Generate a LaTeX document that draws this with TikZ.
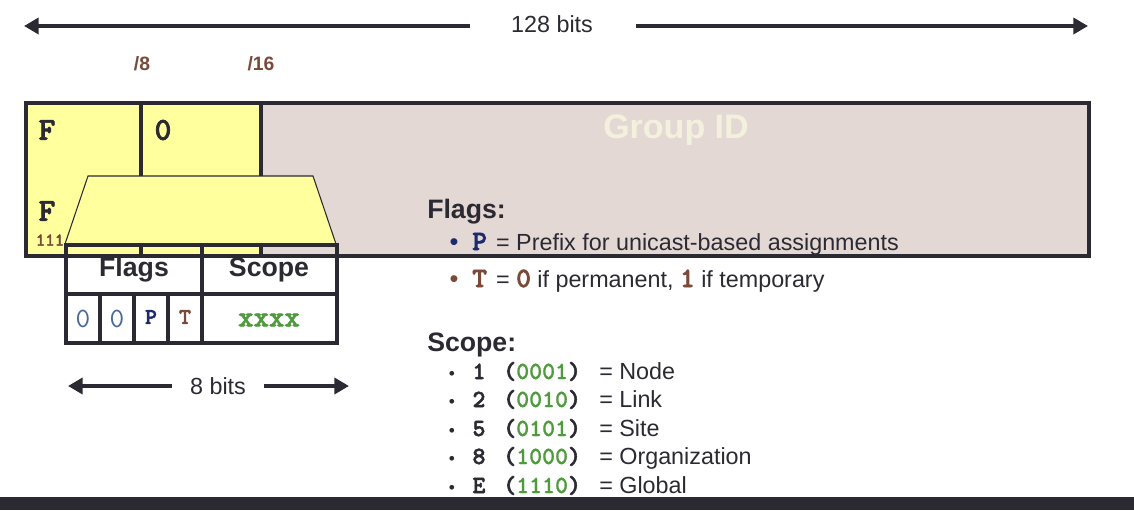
\documentclass[tikz,border=0pt]{standalone}
\usepackage{fontspec}
\setmainfont{Liberation Sans}
\newfontfamily\monob{lmmonolt10-bold.otf}[FakeBold=2.2]
\newfontfamily\monom{lmmonolt10-bold.otf}[FakeBold=0.8]
\newfontfamily\monor{lmmono10-regular.otf}
\usetikzlibrary{arrows.meta}
\definecolor{dk}{HTML}{2B2A33}
\definecolor{yel}{HTML}{FFFF9E}
\definecolor{pinkbg}{HTML}{E4D8D5}
\definecolor{cream}{HTML}{F3F1DE}
\definecolor{brn}{HTML}{7A4A38}
\definecolor{navy}{HTML}{1C2A6E}
\definecolor{grn}{HTML}{4E9A3C}
\definecolor{zblue}{HTML}{4A6A9A}
\newcommand\fsz[1]{\fontsize{#1}{#1}\selectfont}
\begin{document}
\begin{tikzpicture}[x=0.75pt,y=-0.75pt,
  thickline/.style={line width=3pt, draw=dk},
  bigarrow/.style={line width=3pt, draw=dk, -{Triangle[length=11pt,width=12pt]}},
  lbl/.style={inner sep=0pt, text=dk},
  body/.style={font=\fsz{17.5}},
  hdr/.style={font=\fsz{20}\bfseries},
  boxmono/.style={font=\fsz{24}\monob},
]
\useasboundingbox (0,0) rectangle (1134,510);
% top arrow
\node[lbl, body] (bits128) at (552,24) {128 bits};
\coordinate (l128s) at (470,26);
\coordinate (l128e) at (24,26);
\coordinate (r128s) at (636,26);
\coordinate (r128e) at (1088,26);
\draw[bigarrow] (l128s) -- (l128e);
\draw[bigarrow] (r128s) -- (r128e);
% prefix marks
\node[lbl, text=brn, font=\fsz{14.5}\bfseries] (p8) at (142,64) {/8};
\node[lbl, text=brn, font=\fsz{14.5}\bfseries] (p16) at (261,64) {/16};
% main box
\fill[yel] (26,103) rectangle (261,256);
\fill[pinkbg] (261,103) rectangle (1089,256);
\draw[thickline] (26,103) rectangle (1089,256);
\draw[thickline] (141,103) -- (141,256);
\draw[thickline] (261,103) -- (261,256);
\node[lbl, boxmono] (f1) at (47,130) {F};
\node[lbl, boxmono] (z1) at (163,130) {0};
\node[lbl, boxmono] (f2) at (47,211) {F};
\node[lbl, text=brn, font=\fsz{13.5}\monob] (ones) at (50,240) {111};
\node[lbl, text=cream, font=\fsz{25.5}\bfseries] (gid) at (676,130) {Group ID};
% trapezoid
\filldraw[fill=yel, draw=dk, line width=0.8pt] (88,176) -- (313,176) -- (336,244) -- (65,244) -- cycle;
% flags table
\draw[thickline] (66,245) rectangle (337,343);
\draw[thickline] (66,294) -- (337,294);
\draw[thickline] (202,245) -- (202,343);
\draw[thickline] (100,294) -- (100,343);
\draw[thickline] (134,294) -- (134,343);
\draw[thickline] (168,294) -- (168,343);
\node[lbl, hdr] (tflags) at (134,270) {Flags};
\node[lbl, hdr] (tscope) at (269,270) {Scope};
\node[lbl, text=zblue, font=\fsz{21}\monor] (b0) at (83,319) {0};
\node[lbl, text=zblue, font=\fsz{21}\monor] (b1) at (117,319) {0};
\node[lbl, text=navy, font=\fsz{17}\monob] (bp) at (151,317) {P};
\node[lbl, text=brn, font=\fsz{17}\monob] (bt) at (185,317) {T};
\node[lbl, text=grn, font=\fsz{22}\monob] (bx) at (269,320) {xxxx};
% 8 bits arrow
\node[lbl, body] (bits8) at (218,386) {8 bits};
\coordinate (l8s) at (172,386);
\coordinate (l8e) at (68,386);
\coordinate (r8s) at (264,386);
\coordinate (r8e) at (349,386);
\draw[bigarrow] (l8s) -- (l8e);
\draw[bigarrow] (r8s) -- (r8e);
% flags description
\node[lbl, hdr, anchor=base west] (flagsh) at (427,218) {Flags:};
\node[lbl, text=navy, font=\fsz{19}, anchor=base] (fb1) at (454,250) {•};
\node[lbl, body, anchor=base west] (fl1) at (472,250) {\textcolor{navy}{\fsz{21}\monob P}\hspace{2pt} = Prefix for unicast-based assignments};
\node[lbl, text=brn, font=\fsz{19}, anchor=base] (fb2) at (454,287) {•};
\node[lbl, body, anchor=base west] (fl2) at (472,287) {\textcolor{brn}{\fsz{21}\monob T}\hspace{2pt} = \textcolor{brn}{\fsz{21}\monob 0} if permanent, \textcolor{brn}{\fsz{21}\monob 1} if temporary};
% scope description
\node[lbl, hdr, anchor=base west] (scopeh) at (427,351) {Scope:};
\foreach \yy/\k/\c/\t in {379/1/0001/Node, 407/2/0010/Link, 436/5/0101/Site, 464/8/1000/Organization, 493/E/1110/Global} {
  \node[lbl, font=\fsz{13}, anchor=base] (sb\k) at (452,\yy) {•};
  \node[lbl, font=\fsz{18.5}\monob, anchor=base] (sk\k) at (479,\yy) {\k};
  \node[lbl, font=\fsz{18.5}\monob, anchor=base west] (sc\k) at (503,\yy) {(\textcolor{grn}{\monom\c})};
  \node[lbl, body, anchor=base west] (st\k) at (599,\yy) {= \t};
}
% bottom bar
\fill[dk] (0,497) rectangle (1134,510);
\end{tikzpicture}
\end{document}
